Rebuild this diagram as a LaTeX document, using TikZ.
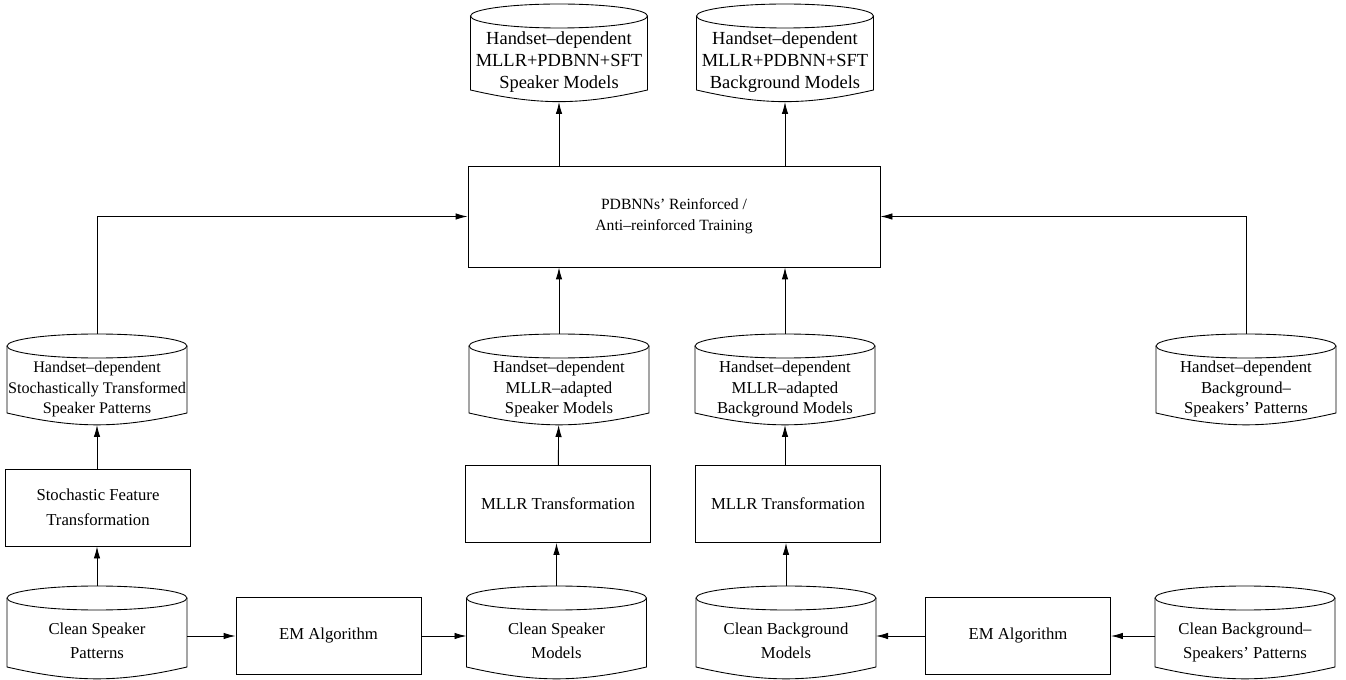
\documentclass[tikz,border=0pt]{standalone}
\usepackage{fontspec}
\setmainfont{Liberation Serif}
\usetikzlibrary{
    arrows.meta,
    calc,
    positioning
}
\newcommand{\dbtext}[1]{\raisebox{-0.27cm}[0pt][0pt]{\begin{tabular}{@{}c@{}}#1\end{tabular}}}
\tikzset{
    db/.style={rectangle, inner sep=0pt, minimum width=3.6cm, minimum height=1.34cm,
        outer xsep=0pt, outer ysep=0.24cm,
        font=\fontsize{9.5}{11.5}\selectfont,
        append after command={\pgfextra{\let\dbnode\tikzlastnode
            \draw let \p1=($(\dbnode.east)-(\dbnode.center)$) in
                ($(\dbnode.north)+(0,-0.24)$) ellipse [x radius=\x1, y radius=0.24cm];
            \draw ($(\dbnode.north west)+(0,-0.24)$) -- ($(\dbnode.south west)+(0,0.24)$)
                to[bend right=13] ($(\dbnode.south east)+(0,0.24)$) -- ($(\dbnode.north east)+(0,-0.24)$);
        }}},
    proc/.style={draw, rectangle, minimum width=3.7cm, minimum height=1.54cm,
        align=center, font=\fontsize{9.5}{14}\selectfont},
    flow/.style={-{Latex[length=2.4mm,width=1.3mm]}}
}

\begin{document}
\begin{tikzpicture}[line width=0.5pt]
    \useasboundingbox (0, 0) rectangle (26.92, -13.6);
    \node[db, minimum width=3.54cm, minimum height=1.48cm, font=\fontsize{10.5}{12.5}\selectfont] (outSpk) at (11.18, -1.06) {\dbtext{Handset--dependent\\MLLR+PDBNN+SFT\\Speaker Models}};
    \node[db, minimum width=3.54cm, minimum height=1.48cm, font=\fontsize{10.5}{12.5}\selectfont] (outBg) at (15.70, -1.06) {\dbtext{Handset--dependent\\MLLR+PDBNN+SFT\\Background Models}};
    \node[proc, minimum width=8.24cm, minimum height=2.02cm, font=\fontsize{8.9}{12}\selectfont] (train) at (13.48, -4.33) {PDBNNs' Reinforced /\\Anti--reinforced Training};
    \node[db, font=\fontsize{9.2}{11.5}\selectfont] (sftPat) at (1.94, -7.59) {\dbtext{Handset--dependent\\Stochastically Transformed\\Speaker Patterns}};
    \node[db] (mllrSpk) at (11.18, -7.59) {\dbtext{Handset--dependent\\MLLR--adapted\\Speaker Models}};
    \node[db] (mllrBg) at (15.70, -7.59) {\dbtext{Handset--dependent\\MLLR--adapted\\Background Models}};
    \node[db] (hdBgPat) at (24.92, -7.59) {\dbtext{Handset--dependent\\Background--\\Speakers' Patterns}};
    \node[proc] (sft) at (1.96, -10.15) {Stochastic Feature\\Transformation};
    \node[proc] (mllrS) at (11.16, -10.08) {MLLR Transformation};
    \node[proc] (mllrB) at (15.76, -10.08) {MLLR Transformation};
    \node[db, minimum height=1.38cm, font=\fontsize{9.5}{13.5}\selectfont] (cleanPat) at (1.94, -12.65) {\dbtext{Clean Speaker\\Patterns}};
    \node[proc] (emS) at (6.57, -12.72) {EM Algorithm};
    \node[db, minimum height=1.38cm, font=\fontsize{9.5}{13.5}\selectfont] (cleanSpk) at (11.13, -12.65) {\dbtext{Clean Speaker\\Models}};
    \node[db, minimum height=1.38cm, font=\fontsize{9.5}{13.5}\selectfont] (cleanBg) at (15.72, -12.65) {\dbtext{Clean Background\\Models}};
    \node[proc] (emB) at (20.36, -12.72) {EM Algorithm};
    \node[db, minimum height=1.38cm, font=\fontsize{9.5}{13.5}\selectfont] (cleanBgPat) at (24.90, -12.65) {\dbtext{Clean Background--\\Speakers' Patterns}};
    \draw[flow] (cleanPat) -- (cleanPat |- sft.south);
    \draw[flow] (sft.north -| sftPat) -- (sftPat);
    \draw[flow] (sftPat) |- (train);
    \draw[flow] (cleanPat.east |- emS) -- (emS);
    \draw[flow] (emS) -- (cleanSpk.west |- emS);
    \draw[flow] (cleanSpk) -- (cleanSpk |- mllrS.south);
    \draw[flow] (mllrS) -- (mllrSpk);
    \draw[flow] (mllrSpk) -- (mllrSpk |- train.south);
    \draw[flow] (cleanBgPat.west |- emB) -- (emB);
    \draw[flow] (emB) -- (cleanBg.east |- emB);
    \draw[flow] (cleanBg) -- (cleanBg |- mllrB.south);
    \draw[flow] (mllrB.north -| mllrBg) -- (mllrBg);
    \draw[flow] (mllrBg) -- (mllrBg |- train.south);
    \draw[flow] (hdBgPat) |- (train);
    \draw[flow] (outSpk |- train.north) -- (outSpk);
    \draw[flow] (outBg |- train.north) -- (outBg);
\end{tikzpicture}
\end{document}
